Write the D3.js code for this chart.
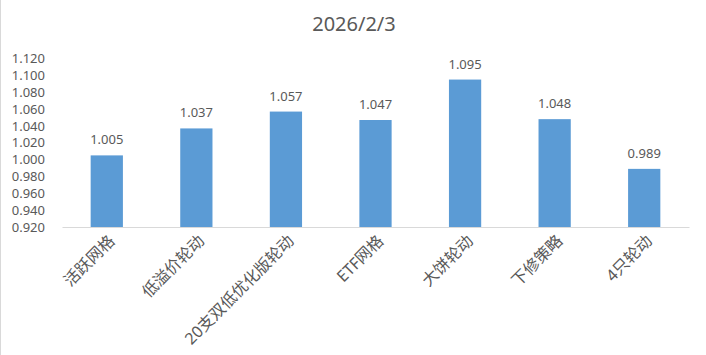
<!DOCTYPE html>
<html>
<head>
<meta charset="utf-8">
<script src="https://cdn.jsdelivr.net/npm/d3@7"></script>
<style>
    body { margin: 0; background: #fff; }
    text { font-family: "Noto Sans", "Noto Sans CJK SC", sans-serif; fill: #595959; }
</style>
</head>
<body>
<div id="chart"></div>
<script>
var title = '2026/2/3';
var categories = ['活跃网格', '低溢价轮动', '20支双低优化版轮动', 'ETF网格', '大饼轮动', '下修策略', '4只轮动'];
var values = [1.005, 1.037, 1.057, 1.047, 1.095, 1.048, 0.989];
var yTicks = [0.92, 0.94, 0.96, 0.98, 1.00, 1.02, 1.04, 1.06, 1.08, 1.10, 1.12];

var width = 706;
var height = 355;
var plotLeft = 62, plotRight = 689, plotTop = 58.5, plotBottom = 227;

var svg = d3.select('#chart')
    .append('svg')
    .attr('width', width)
    .attr('height', height);

// chart border, only the left edge shows
svg.append('line')
    .attr('x1', 0.5).attr('x2', 0.5)
    .attr('y1', 0).attr('y2', height)
    .attr('stroke', '#d9d9d9');

var xScale = d3.scaleBand()
    .domain(categories)
    .range([plotLeft, plotRight])
    .paddingInner(0.64)
    .paddingOuter(0.32);

var yScale = d3.scaleLinear()
    .domain([0.92, 1.12])
    .range([plotBottom, plotTop]);

svg.append('text')
    .attr('x', 354)
    .attr('y', 31)
    .style('text-anchor', 'middle')
    .style('font-size', '20px')
    .text(title);

var yAxis = d3.axisLeft(yScale)
    .tickValues(yTicks)
    .tickFormat(d3.format('.3f'))
    .tickSize(0)
    .tickPadding(0);

var gy = svg.append('g')
    .attr('transform', 'translate(45, 0)')
    .call(yAxis);
gy.select('.domain').remove();
gy.selectAll('text')
    .style('font-size', '13px')
    .style('font-family', '"Noto Sans", sans-serif')
    .attr('fill', '#595959');

svg.selectAll('rect.bar')
    .data(values)
    .enter()
    .append('rect')
    .attr('class', 'bar')
    .attr('x', function (d, i) { return xScale(categories[i]); })
    .attr('width', xScale.bandwidth())
    .attr('y', function (d) { return yScale(d); })
    .attr('height', function (d) { return plotBottom - yScale(d); })
    .attr('fill', '#5b9bd5');

var xAxis = d3.axisBottom(xScale).tickSize(0).tickFormat('');
var gx = svg.append('g')
    .attr('transform', 'translate(0, ' + plotBottom + ')')
    .call(xAxis);
gx.select('.domain').attr('stroke', '#d9d9d9');

svg.selectAll('text.value')
    .data(values)
    .enter()
    .append('text')
    .attr('class', 'value')
    .attr('x', function (d, i) { return xScale(categories[i]) + xScale.bandwidth() / 2; })
    .attr('y', function (d) { return yScale(d) - 11; })
    .style('text-anchor', 'middle')
    .style('font-size', '13px')
    .text(function (d) { return d3.format('.3f')(d); });

svg.selectAll('text.cat')
    .data(categories)
    .enter()
    .append('text')
    .attr('class', 'cat')
    .attr('transform', function (d) {
        var cx = xScale(d) + xScale.bandwidth() / 2 + 5;
        return 'translate(' + cx + ', ' + (plotBottom + 11) + ') rotate(-45)';
    })
    .attr('dy', '0.35em')
    .style('text-anchor', 'end')
    .style('font-size', '16px')
    .text(function (d) { return d; });
</script>
</body>
</html>
